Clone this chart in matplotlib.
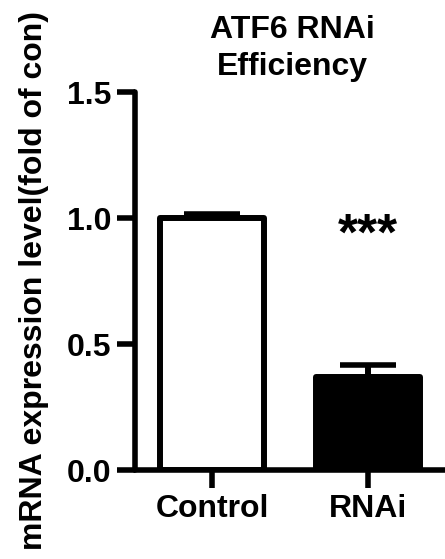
import matplotlib.pyplot as plt

plt.rcParams.update({
    "font.family": "sans-serif",
    "font.sans-serif": ["Liberation Sans", "DejaVu Sans"],
    "font.weight": "bold",
})

groups = ["Control", "RNAi"]
means = [1.0, 0.37]
sem = [0.016, 0.048]
face = ["white", "black"]

fig = plt.figure(figsize=(4.45, 5.59), dpi=100)
# axes box in pixels: left 135, right 445, bottom 470 (of 559), top 92
ax = fig.add_axes([135 / 445, (559 - 470) / 559, 310 / 445, (470 - 92) / 559])

x = list(range(len(groups)))
ax.bar(x, means, width=0.67, color=face, edgecolor="black", linewidth=4.3,
       joinstyle="round", zorder=3)
ax.errorbar(x, means, yerr=[[0] * len(sem), sem], fmt="none", ecolor="black",
            elinewidth=4.3, capsize=20.5, capthick=4, zorder=2)

ax.text(1, 0.875, "***", ha="center", va="baseline", fontsize=37, fontweight="bold")

ax.set_xlim(-0.494, 1.494)
ax.set_ylim(0, 1.5)
ax.set_yticks([0.0, 0.5, 1.0, 1.5])
ax.set_yticklabels(["0.0", "0.5", "1.0", "1.5"])
ax.set_xticks(x)
ax.set_xticklabels(groups)

for s in ("top", "right"):
    ax.spines[s].set_visible(False)
for s in ("left", "bottom"):
    ax.spines[s].set_linewidth(4)
    ax.spines[s].set_capstyle("round")
ax.tick_params(axis="both", length=13, width=4, labelsize=23)
ax.tick_params(axis="y", pad=4)
ax.tick_params(axis="x", pad=4)

ax.set_ylabel("mRNA expression level(fold of con)", fontsize=23, fontweight="bold",
              labelpad=13)
ax.set_title("ATF6 RNAi\nEfficiency", fontsize=23, fontweight="bold",
             x=(292 - 135) / 310, pad=12, linespacing=1.3)

fig.savefig("out.png", dpi=100)
